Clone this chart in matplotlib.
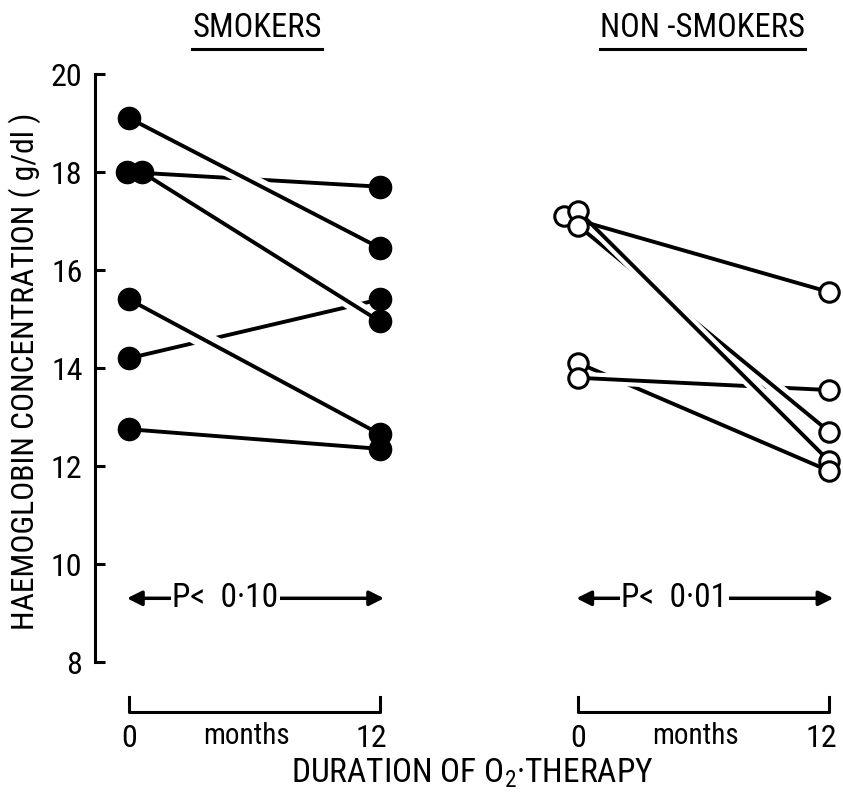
import matplotlib
matplotlib.use('Agg')
import matplotlib.pyplot as plt
from matplotlib import font_manager
from matplotlib.lines import Line2D
from matplotlib.transforms import blended_transform_factory

# prefer a narrow sans for the lettering if one is around
names = {f.name for f in font_manager.fontManager.ttflist}
narrow = [n for n in ['Liberation Sans Narrow', 'Roboto Condensed', 'Open Sans Condensed',
                      'Noto Sans Condensed'] if n in names]
plt.rcParams['font.family'] = narrow[:1] + ['DejaVu Sans']

# haemoglobin (g/dl) before and after 12 months of O2 therapy, one pair per patient
smk_start = [19.1, 18.0, 18.0, 14.2, 15.4, 12.75]
smk_end = [16.45, 17.7, 14.95, 15.4, 12.65, 12.35]
non_start = [17.1, 17.2, 16.9, 14.1, 13.8]
non_end = [15.55, 12.1, 12.7, 11.9, 13.55]

months = [0, 12]
groups = ['SMOKERS', 'NON -SMOKERS']
p_labels = ['P<  0·10', 'P<  0·01']
yticks = [8, 10, 12, 14, 16, 18, 20]

# hand drawn look: a line drawn later breaks the ones it passes over,
# layer = drawing order, cut = extra width (pt) of the white gap it leaves
smk_layer = [4, 3, 2, 1, 2, 3]
smk_cut = [8, 0, 7, 0, 10, 0]
smk_nudge = [0, -0.1, 0.6, 0, 0, 0]
non_layer = [6, 5, 4, 1, 3]
non_cut = [0, 6, 7, 0, 6]
non_nudge = [-0.7, 0, 0, 0, 0]

LW = 2.8
FS = 23
offsets = [0, 21.5]

fig = plt.figure(figsize=(8.43, 8.0), dpi=100)
ax = fig.add_axes([95 / 843, 1 - 662 / 800, 748 / 843, 588 / 800])
ax.set_xlim(-1.63, 34.16)
ax.set_ylim(8, 20)


def draw_group(x0, start, end, layer, cut, nudge, filled):
    for s, e, z, c, dx in zip(start, end, layer, cut, nudge):
        fx = [x0 + months[0] + dx, x0 + months[1]]
        if c:
            ax.plot(fx, [s, e], color='white', lw=LW + c, zorder=z - 0.5,
                    solid_capstyle='butt', clip_on=False)
        ax.plot(fx, [s, e], color='black', lw=LW, zorder=z, solid_capstyle='butt',
                clip_on=False)
    if filled:
        style = dict(marker='o', ms=16, mfc='black', mec='black', mew=1, ls='none')
    else:
        style = dict(marker='o', ms=14, mfc='white', mec='black', mew=2.2, ls='none')
    xs = [x0 + months[0] + dx for dx in nudge]
    ax.plot(xs, start, zorder=10, clip_on=False, **style)
    ax.plot([x0 + months[1]] * len(end), end, zorder=10, clip_on=False, **style)


draw_group(offsets[0], smk_start, smk_end, smk_layer, smk_cut, smk_nudge, True)
draw_group(offsets[1], non_start, non_end, non_layer, non_cut, non_nudge, False)

# y axis: only the left spine, ticks pointing inwards
for side in ['top', 'right', 'bottom']:
    ax.spines[side].set_visible(False)
ax.spines['left'].set_linewidth(2.2)
ax.set_yticks(yticks)
ax.set_xticks([])
ax.tick_params(axis='y', direction='in', length=7, width=2.2, labelsize=FS, pad=9)

trans = blended_transform_factory(ax.transData, ax.transAxes)
for x0, lab in zip(offsets, p_labels):
    # significance arrows
    ax.annotate('', xy=(x0 - 0.1, 9.3), xytext=(x0 + 12.2, 9.3),
                arrowprops=dict(arrowstyle='<|-|>', lw=2.5, color='black',
                                mutation_scale=22, shrinkA=0, shrinkB=0))
    ax.text(x0 + 4.6, 9.3, lab, ha='center', va='center', fontsize=24, zorder=5,
            bbox=dict(fc='white', ec='none', pad=1))

    # time scale bracket below each group
    ax.plot([x0, x0, x0 + 12, x0 + 12], [-0.06, -0.085, -0.085, -0.06],
            transform=trans, clip_on=False, color='black', lw=2.2)
    ax.text(x0 + months[0], -0.13, '0', transform=trans, ha='center', va='center', fontsize=FS)
    ax.text(x0 + 11.6, -0.13, '12', transform=trans, ha='center', va='center', fontsize=FS)
    ax.text(x0 + 5.6, -0.125, 'months', transform=trans, ha='center', va='center', fontsize=21)

fig.text(25 / 843, 1 - 371 / 800, 'HAEMOGLOBIN CONCENTRATION ( g/dl )', rotation=90,
         ha='center', va='center', fontsize=22.8)
fig.text(472 / 843, 1 - 773 / 800, r'DURATION OF $\mathregular{O_2}$·THERAPY',
         ha='center', va='center', fontsize=24)

titles = []
for x, name in zip([257 / 843, 702 / 843], groups):
    titles.append(fig.text(x, 1 - 28 / 800, name, ha='center', va='center', fontsize=23.5))

# underline the group titles
fig.canvas.draw()
r = fig.canvas.get_renderer()
for t in titles:
    bb = t.get_window_extent(r).transformed(fig.transFigure.inverted())
    fig.add_artist(Line2D([bb.x0, bb.x1], [bb.y0 - 0.006] * 2, color='black', lw=2.2))

fig.savefig('out.png', dpi=100)
